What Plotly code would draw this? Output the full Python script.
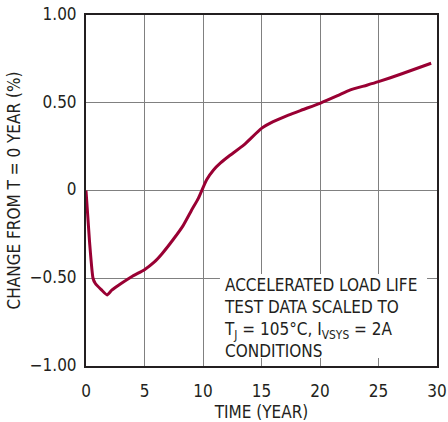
import plotly.graph_objects as go

years = [0, 0.3, 0.6, 0.8, 1.3, 1.8, 2.2, 3, 4, 5, 5.8, 6.5, 7.5, 8.3, 9.0, 9.6, 10.3,
         10.9, 11.5, 12.2, 13.5, 15, 16, 17.3, 18.5, 20, 21.5, 22.6, 24, 25, 27, 29.5]
change = [0, -0.29, -0.5, -0.53, -0.565, -0.595, -0.568, -0.53, -0.487, -0.451, -0.41,
          -0.36, -0.275, -0.2, -0.115, -0.045, 0.06, 0.117, 0.157, 0.195, 0.26, 0.354,
          0.392, 0.43, 0.46, 0.497, 0.54, 0.573, 0.6, 0.62, 0.665, 0.725]

x_ticks = [0, 5, 10, 15, 20, 25, 30]
y_ticks = [-1.0, -0.5, 0, 0.5, 1.0]
y_labels = ["\u22121.00", "\u22120.50", "0", "0.50", "1.00"]

note_lines = ["ACCELERATED LOAD LIFE", "TEST DATA SCALED TO",
              "T<sub>J</sub> = 105°C, I<sub>VSYS</sub> = 2A", "CONDITIONS"]

FONT = "Liberation Sans Narrow, DejaVu Sans Condensed, Arial Narrow, sans-serif"
TXT = "#231f20"
FS = 17

fig = go.Figure()
fig.add_trace(go.Scatter(x=years, y=change, mode="lines",
                         line=dict(color="#990033", width=3, shape="spline", smoothing=0.5),
                         hoverinfo="skip", showlegend=False))

fig.add_shape(type="rect", xref="x", yref="y", x0=11.45, x1=29.15, y0=-0.955, y1=-0.476,
              fillcolor="white", line=dict(width=0), layer="above")

fig.add_annotation(x=11.65, y=-0.47, xref="x", yref="y", xanchor="left", yanchor="top",
                   text="<br>".join(note_lines), showarrow=False, align="left",
                   font=dict(family=FONT, size=FS, color=TXT))

axis_common = dict(showline=True, linecolor="#231f20", linewidth=2, mirror=True,
                   showgrid=True, gridcolor="#808080", gridwidth=1,
                   zeroline=False, ticks="", automargin=False, ticklabeloverflow="allow",
                   tickfont=dict(family=FONT, size=FS, color=TXT))

fig.update_xaxes(range=[0, 30], tickvals=x_ticks, ticklabelstandoff=9,
                 title=dict(text="TIME (YEAR)", font=dict(family=FONT, size=FS, color=TXT), standoff=12),
                 **axis_common)
fig.update_yaxes(range=[-1, 1], tickvals=y_ticks, ticktext=y_labels, ticklabelstandoff=4,
                 ticklabelshift=-1,
                 title=dict(text="CHANGE FROM T = 0 YEAR (%)", font=dict(family=FONT, size=FS, color=TXT), standoff=5),
                 **axis_common)

fig.update_layout(width=448, height=422, margin=dict(l=86, r=11, t=15, b=56),
                  paper_bgcolor="white", plot_bgcolor="white")

# remove the default 8px page margin so the figure fills the window exactly
fig.write_html("out.html", config={"displayModeBar": False},
               post_script="document.body.style.margin='0px';")
